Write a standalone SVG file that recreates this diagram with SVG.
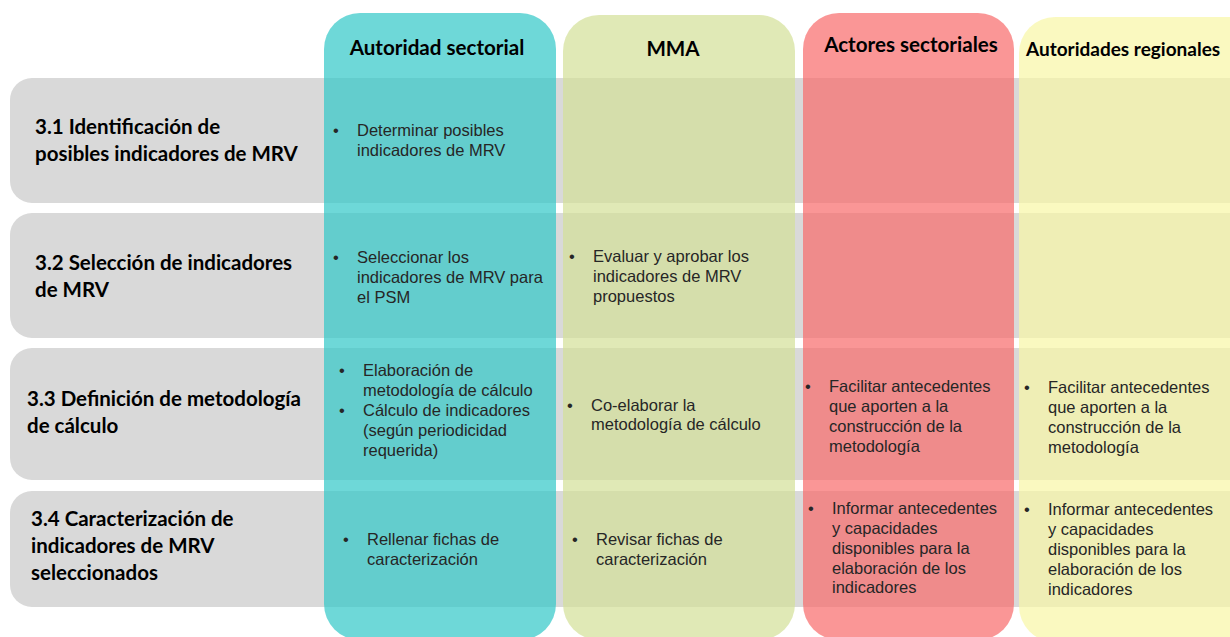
<svg xmlns="http://www.w3.org/2000/svg" width="1230" height="637" viewBox="0 0 1230 637">
<style>
.row{fill:#d9d9d9}
.col{opacity:0.7}
.hdr{font-family:Lato,"Liberation Sans",sans-serif;font-weight:700;font-size:20.6px;fill:#000}
.lbl{font-family:Lato,"Liberation Sans",sans-serif;font-weight:700;font-size:20.5px;fill:#000}
.txt{font-family:"Liberation Sans",Arial,sans-serif;font-size:16.5px;fill:#262626}
</style>
<rect width="1230" height="637" fill="#ffffff"/>
<g id="rows">
<g id="row-3-1"><rect class="row" x="10" y="78" width="1240" height="125" rx="22"/>
<text class="lbl" x="35" y="134">3.1 Identificación de</text>
<text class="lbl" x="35" y="161">posibles indicadores de MRV</text></g>
<g id="row-3-2"><rect class="row" x="10" y="213" width="1240" height="125" rx="22"/>
<text class="lbl" x="35" y="270">3.2 Selección de indicadores</text>
<text class="lbl" x="35" y="297">de MRV</text></g>
<g id="row-3-3"><rect class="row" x="10" y="348" width="1240" height="132" rx="22"/>
<text class="lbl" x="27" y="406">3.3 Definición de metodología</text>
<text class="lbl" x="27" y="433">de cálculo</text></g>
<g id="row-3-4"><rect class="row" x="10" y="491" width="1240" height="116" rx="22"/>
<text class="lbl" x="31" y="526">3.4 Caracterización de</text>
<text class="lbl" x="31" y="553">indicadores de MRV</text>
<text class="lbl" x="31" y="580">seleccionados</text></g>
</g>
<g id="col-autoridad-sectorial">
<rect class="col" x="324" y="13" width="232" height="627" rx="36" fill="#30c7c7"/>
<text class="hdr" x="437" y="55" text-anchor="middle">Autoridad sectorial</text>
</g>
<g id="col-mma">
<rect class="col" x="563" y="15" width="232" height="625" rx="36" fill="#d3e097"/>
<text class="hdr" x="673" y="56" text-anchor="middle">MMA</text>
</g>
<g id="col-actores-sectoriales">
<rect class="col" x="803" y="13" width="211" height="627" rx="36" fill="#f86969"/>
<text class="hdr" x="911" y="52" text-anchor="middle">Actores sectoriales</text>
</g>
<g id="col-autoridades-regionales">
<rect class="col" x="1019" y="17" width="260" height="625" rx="36" fill="#f8f6a5"/>
<text class="hdr" x="1026" y="56" style="font-size:19px">Autoridades regionales</text>
</g>
<g id="cell-3-1-autoridad" class="txt">
<text x="333" y="136">•</text><text x="357" y="136">Determinar posibles</text>
<text x="357" y="156">indicadores de MRV</text>
</g>
<g id="cell-3-2-autoridad" class="txt">
<text x="333" y="263">•</text><text x="357" y="263">Seleccionar los</text>
<text x="357" y="283">indicadores de MRV para</text>
<text x="357" y="303">el PSM</text>
</g>
<g id="cell-3-2-mma" class="txt">
<text x="569" y="262">•</text><text x="593" y="262">Evaluar y aprobar los</text>
<text x="593" y="282">indicadores de MRV</text>
<text x="593" y="302">propuestos</text>
</g>
<g id="cell-3-3-autoridad" class="txt">
<text x="339" y="376">•</text><text x="363" y="376">Elaboración de</text>
<text x="363" y="396">metodología de cálculo</text>
<text x="339" y="416">•</text><text x="363" y="416">Cálculo de indicadores</text>
<text x="363" y="436">(según periodicidad</text>
<text x="363" y="456">requerida)</text>
</g>
<g id="cell-3-3-mma" class="txt">
<text x="567" y="411">•</text><text x="591" y="411">Co-elaborar la</text>
<text x="591" y="430">metodología de cálculo</text>
</g>
<g id="cell-3-3-actores" class="txt">
<text x="805" y="392">•</text><text x="829" y="392">Facilitar antecedentes</text>
<text x="829" y="412">que aporten a la</text>
<text x="829" y="432">construcción de la</text>
<text x="829" y="452">metodología</text>
</g>
<g id="cell-3-3-regionales" class="txt">
<text x="1024" y="393">•</text><text x="1048" y="393">Facilitar antecedentes</text>
<text x="1048" y="413">que aporten a la</text>
<text x="1048" y="433">construcción de la</text>
<text x="1048" y="453">metodología</text>
</g>
<g id="cell-3-4-autoridad" class="txt">
<text x="343" y="545">•</text><text x="367" y="545">Rellenar fichas de</text>
<text x="367" y="565">caracterización</text>
</g>
<g id="cell-3-4-mma" class="txt">
<text x="572" y="545">•</text><text x="596" y="545">Revisar fichas de</text>
<text x="596" y="565">caracterización</text>
</g>
<g id="cell-3-4-actores" class="txt">
<text x="808" y="514">•</text><text x="832" y="514">Informar antecedentes</text>
<text x="832" y="534">y capacidades</text>
<text x="832" y="554">disponibles para la</text>
<text x="832" y="574">elaboración de los</text>
<text x="832" y="593">indicadores</text>
</g>
<g id="cell-3-4-regionales" class="txt">
<text x="1024" y="515">•</text><text x="1048" y="515">Informar antecedentes</text>
<text x="1048" y="535">y capacidades</text>
<text x="1048" y="555">disponibles para la</text>
<text x="1048" y="575">elaboración de los</text>
<text x="1048" y="595">indicadores</text>
</g>
</svg>
